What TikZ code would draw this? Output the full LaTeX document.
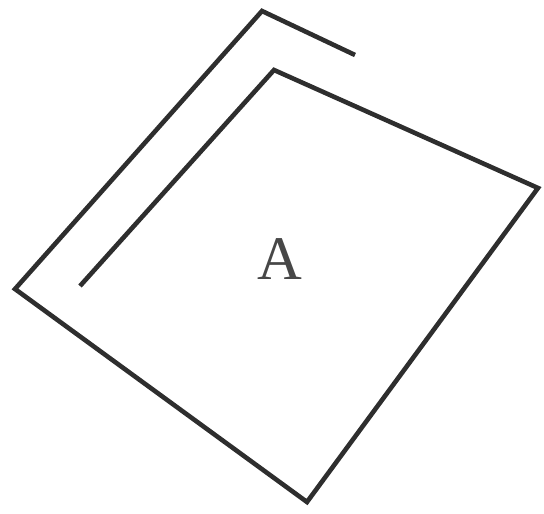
\documentclass[tikz,border=0pt]{standalone}
\usepackage{fontspec}
\setmainfont{Liberation Serif}
\begin{document}
\begin{tikzpicture}[x=1pt,y=-1pt,
  wall/.style={line width=4.6pt,color=black!82,line join=miter,line cap=butt}]
\useasboundingbox (0,0) rectangle (544,514);
\coordinate (e1) at (355,55);
\coordinate (c1) at (262,11);
\coordinate (c2) at (15,289);
\coordinate (c3) at (307,502);
\coordinate (c4) at (538,188);
\coordinate (c5) at (274,70);
\coordinate (e2) at (80,286);
\draw[wall] (e1) -- (c1) -- (c2) -- (c3) -- (c4) -- (c5) -- (e2);
\node[font=\fontsize{62}{62}\selectfont,text=black!72] (A) at (280,259) {A};
\end{tikzpicture}
\end{document}
